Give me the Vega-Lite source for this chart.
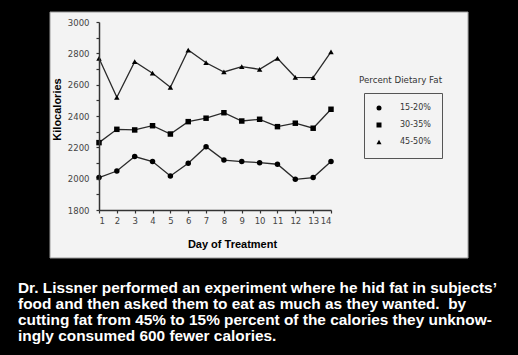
{
  "$schema": "https://vega.github.io/schema/vega-lite/v6.json",
  "width": 232,
  "height": 188,
  "autosize": {"type": "none"},
  "padding": {"left": 99, "top": 22, "right": 187, "bottom": 145},
  "background": "black",
  "config": {"view": {"stroke": null}, "axis": {"grid": false}},
  "title": {
    "text": [
      "Dr. Lissner performed an experiment where he hid fat in subjects’",
      "food and then asked them to eat as much as they wanted.\u00a0 by",
      "cutting fat from 45% to 15% percent of the calories they unknow-",
      "ingly consumed 600 fewer calories."
    ],
    "orient": "bottom",
    "anchor": "start",
    "frame": "group",
    "color": "white",
    "font": "Liberation Sans",
    "fontSize": 15.4,
    "fontWeight": "bold",
    "lineHeight": 16.3,
    "dx": -81,
    "offset": 22
  },
  "data": {
    "values": [
      {"day": 1, "fat": "15-20%", "kcal": 2007}, {"day": 2, "fat": "15-20%", "kcal": 2049}, {"day": 3, "fat": "15-20%", "kcal": 2141}, {"day": 4, "fat": "15-20%", "kcal": 2109}, {"day": 5, "fat": "15-20%", "kcal": 2017}, {"day": 6, "fat": "15-20%", "kcal": 2098}, {"day": 7, "fat": "15-20%", "kcal": 2204}, {"day": 8, "fat": "15-20%", "kcal": 2119}, {"day": 9, "fat": "15-20%", "kcal": 2109}, {"day": 10, "fat": "15-20%", "kcal": 2102}, {"day": 11, "fat": "15-20%", "kcal": 2092}, {"day": 12, "fat": "15-20%", "kcal": 1996}, {"day": 13, "fat": "15-20%", "kcal": 2007}, {"day": 14, "fat": "15-20%", "kcal": 2109},
      {"day": 1, "fat": "30-35%", "kcal": 2230}, {"day": 2, "fat": "30-35%", "kcal": 2315}, {"day": 3, "fat": "30-35%", "kcal": 2311}, {"day": 4, "fat": "30-35%", "kcal": 2338}, {"day": 5, "fat": "30-35%", "kcal": 2285}, {"day": 6, "fat": "30-35%", "kcal": 2364}, {"day": 7, "fat": "30-35%", "kcal": 2386}, {"day": 8, "fat": "30-35%", "kcal": 2421}, {"day": 9, "fat": "30-35%", "kcal": 2368}, {"day": 10, "fat": "30-35%", "kcal": 2379}, {"day": 11, "fat": "30-35%", "kcal": 2332}, {"day": 12, "fat": "30-35%", "kcal": 2354}, {"day": 13, "fat": "30-35%", "kcal": 2322}, {"day": 14, "fat": "30-35%", "kcal": 2443},
      {"day": 1, "fat": "45-50%", "kcal": 2768}, {"day": 2, "fat": "45-50%", "kcal": 2519}, {"day": 3, "fat": "45-50%", "kcal": 2747}, {"day": 4, "fat": "45-50%", "kcal": 2673}, {"day": 5, "fat": "45-50%", "kcal": 2583}, {"day": 6, "fat": "45-50%", "kcal": 2821}, {"day": 7, "fat": "45-50%", "kcal": 2740}, {"day": 8, "fat": "45-50%", "kcal": 2681}, {"day": 9, "fat": "45-50%", "kcal": 2715}, {"day": 10, "fat": "45-50%", "kcal": 2698}, {"day": 11, "fat": "45-50%", "kcal": 2768}, {"day": 12, "fat": "45-50%", "kcal": 2647}, {"day": 13, "fat": "45-50%", "kcal": 2645}, {"day": 14, "fat": "45-50%", "kcal": 2810}
    ]
  },
  "layer": [
    {
      "data": {"values": [{"panel": "background"}]},
      "mark": {"type": "rect", "fill": "#f3f3f3", "stroke": "#999", "strokeWidth": 1, "clip": false},
      "encoding": {
        "x": {"datum": -1.746, "type": "quantitative", "scale": {"domain": [1, 14], "nice": false, "zero": false}},
        "x2": {"datum": 21.68},
        "y": {"datum": 3063.8, "type": "quantitative", "scale": {"domain": [1800, 3000], "nice": false, "zero": false}},
        "y2": {"datum": 1493.6}
      }
    },
    {
      "mark": {"type": "line", "color": "#2a2a2a", "strokeWidth": 1.3},
      "encoding": {
        "x": {
          "field": "day", "type": "quantitative",
          "scale": {"domain": [1, 14], "nice": false, "zero": false},
          "axis": {
            "zindex": 2,
            "values": [1, 2, 3, 4, 5, 6, 7, 8, 9, 10, 11, 12, 13, 14],
            "tickCount": 30,
            "format": "d",
            "labelOverlap": false,
            "domainColor": "#333", "domainWidth": 1.5, "tickColor": "#333", "tickSize": 3, "tickWidth": 1.2,
            "labelFont": "DejaVu Sans", "labelFontSize": 8.5, "labelColor": "#444", "labelPadding": 3,
            "title": "Day of Treatment", "titleFont": "Liberation Sans", "titleFontSize": 11, "titleFontWeight": "bold", "titleColor": "black",
            "titleX": 133, "titleY": 34, "titleBaseline": "middle"
          }
        },
        "y": {
          "field": "kcal", "type": "quantitative",
          "scale": {"domain": [1800, 3000], "nice": false, "zero": false},
          "axis": {
            "zindex": 2,
            "values": [1800, 1900, 2000, 2100, 2200, 2300, 2400, 2500, 2600, 2700, 2800, 2900, 3000],
            "tickCount": 30,
            "labelExpr": "datum.value % 200 == 0 ? format(datum.value, 'd') : ''",
            "labelOverlap": false,
            "domainColor": "#333", "domainWidth": 1.5, "tickColor": "#333", "tickSize": 3, "tickWidth": 1.2,
            "labelFont": "DejaVu Sans", "labelFontSize": 8.5, "labelColor": "#444", "labelPadding": 7,
            "title": "Kilocalories", "titleFont": "Liberation Sans", "titleFontSize": 11, "titleFontWeight": "bold", "titleColor": "black",
            "titleX": -42, "titleY": 87, "titleBaseline": "middle", "titleAngle": 270
          }
        },
        "detail": {"field": "fat", "type": "nominal"}
      }
    },
    {
      "mark": {"type": "point", "filled": true, "color": "black", "opacity": 1, "size": 30},
      "encoding": {
        "x": {"field": "day", "type": "quantitative", "scale": {"domain": [1, 14], "nice": false, "zero": false}},
        "y": {"field": "kcal", "type": "quantitative", "scale": {"domain": [1800, 3000], "nice": false, "zero": false}},
        "shape": {
          "field": "fat", "type": "nominal",
          "scale": {"domain": ["15-20%", "30-35%", "45-50%"], "range": ["circle", "square", "triangle-up"]},
          "legend": {
            "title": null, "orient": "none", "legendX": 265, "legendY": 71,
            "fillColor": "#f3f3f3", "strokeColor": "#555", "padding": 11,
            "labelFont": "DejaVu Sans", "labelFontSize": 8, "labelColor": "#333", "labelOffset": 17,
            "labelExpr": "datum.label + '\u00a0\u00a0\u00a0\u00a0\u00a0\u00a0\u00a0\u00a0\u00a0\u00a0\u00a0'",
            "symbolSize": 25, "symbolOpacity": 1, "symbolFillColor": "black", "symbolStrokeColor": "black", "symbolStrokeWidth": 1, "rowPadding": 7,
            "encode": {"symbols": {
              "shape": {"value": {"expr": "datum.value === '15-20%' ? 'M-3.4,0H3.4M-1,0A1,1,0,1,0,1,0A1,1,0,1,0,-1,0Z' : datum.value === '30-35%' ? 'M-3.4,0H3.4M-1.1,-1.1H1.1V1.1H-1.1Z' : 'M-3.4,0H3.4M0,-1.3L1.2,0.9H-1.2Z'"}},
              "stroke": {"value": "black"},
              "strokeWidth": {"value": 1}
            }}
          }
        }
      }
    },
    {
      "data": {"values": [{"label": "Percent Dietary Fat"}]},
      "mark": {"type": "text", "align": "left", "baseline": "middle", "font": "DejaVu Sans", "fontSize": 8.7, "color": "#333"},
      "encoding": {
        "x": {"datum": 15.57, "type": "quantitative"},
        "y": {"datum": 2630, "type": "quantitative"},
        "text": {"field": "label", "type": "nominal"}
      }
    }
  ]
}
